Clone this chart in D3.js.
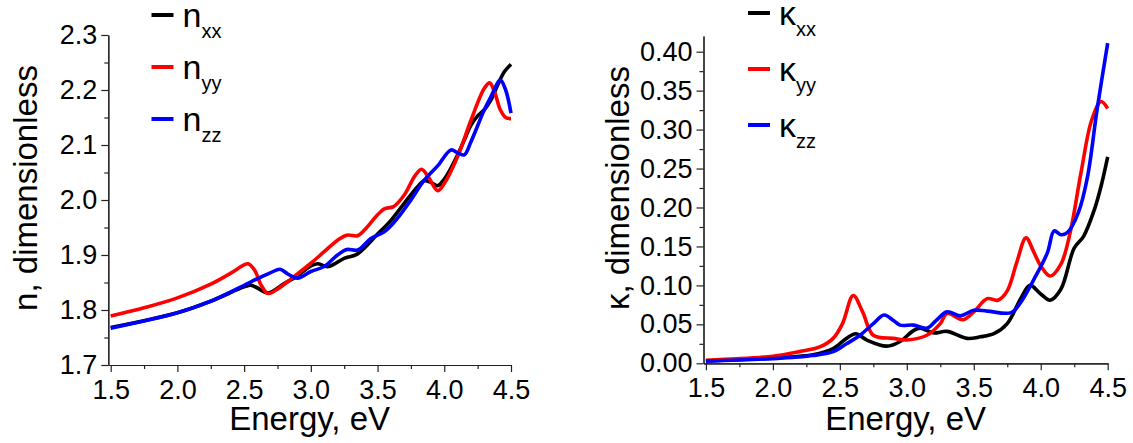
<!DOCTYPE html>
<html lang="en">
<head>
    <meta charset="UTF-8">
    <title>n and kappa</title>
    <script src="https://cdn.jsdelivr.net/npm/d3@7"></script>
    <style>
        body { margin: 0; background: #fff; }
        text { font-family: "Liberation Sans", Arial, sans-serif; fill: #000; }
    </style>
</head>
<body>
</body>
<script>
    // refractive index n (energy eV, value)
    const nxx = [[1.5,1.768],[2.0,1.795],[2.25,1.816],[2.5,1.842],[2.55,1.845],[2.6,1.840],[2.68,1.831],[2.8,1.848],[2.9,1.862],[3.0,1.880],[3.05,1.884],[3.13,1.879],[3.25,1.894],[3.35,1.902],[3.5,1.938],[3.6,1.963],[3.7,1.994],[3.8,2.024],[3.85,2.035],[3.9,2.032],[3.95,2.026],[4.0,2.038],[4.05,2.058],[4.1,2.082],[4.15,2.109],[4.2,2.136],[4.25,2.153],[4.3,2.164],[4.35,2.182],[4.4,2.209],[4.45,2.233],[4.5,2.247]];
    const nyy = [[1.5,1.789],[1.75,1.804],[2.0,1.822],[2.25,1.847],[2.4,1.867],[2.5,1.882],[2.53,1.884],[2.58,1.872],[2.63,1.844],[2.68,1.830],[2.75,1.838],[2.85,1.856],[3.0,1.885],[3.1,1.906],[3.2,1.927],[3.27,1.936],[3.35,1.935],[3.4,1.945],[3.5,1.973],[3.55,1.984],[3.62,1.988],[3.7,2.009],[3.78,2.044],[3.83,2.056],[3.88,2.042],[3.95,2.017],[4.0,2.030],[4.1,2.079],[4.2,2.145],[4.3,2.203],[4.34,2.213],[4.38,2.194],[4.42,2.164],[4.46,2.150],[4.5,2.148]];
    const nzz = [[1.5,1.767],[2.0,1.795],[2.25,1.816],[2.5,1.845],[2.6,1.857],[2.7,1.868],[2.77,1.874],[2.83,1.865],[2.9,1.858],[3.0,1.870],[3.1,1.879],[3.2,1.900],[3.27,1.910],[3.35,1.909],[3.45,1.930],[3.55,1.942],[3.65,1.967],[3.75,2.000],[3.85,2.036],[3.95,2.062],[4.05,2.091],[4.1,2.086],[4.15,2.082],[4.2,2.106],[4.3,2.164],[4.35,2.188],[4.42,2.218],[4.46,2.200],[4.5,2.158]];

    // extinction coefficient kappa
    const kxx = [[1.5,0.003],[2.0,0.007],[2.3,0.011],[2.45,0.019],[2.55,0.032],[2.62,0.038],[2.7,0.030],[2.85,0.022],[2.95,0.028],[3.05,0.042],[3.1,0.045],[3.2,0.039],[3.3,0.041],[3.45,0.032],[3.55,0.034],[3.65,0.038],[3.75,0.051],[3.85,0.083],[3.92,0.100],[4.0,0.089],[4.07,0.081],[4.15,0.095],[4.25,0.148],[4.32,0.163],[4.4,0.197],[4.45,0.227],[4.5,0.265]];
    const kyy = [[1.5,0.004],[2.0,0.009],[2.2,0.015],[2.35,0.021],[2.45,0.032],[2.52,0.051],[2.6,0.087],[2.67,0.066],[2.75,0.036],[2.9,0.032],[3.0,0.030],[3.15,0.036],[3.25,0.051],[3.3,0.064],[3.42,0.056],[3.5,0.066],[3.6,0.083],[3.68,0.081],[3.75,0.093],[3.82,0.129],[3.89,0.161],[3.95,0.142],[4.0,0.125],[4.07,0.112],[4.15,0.127],[4.22,0.168],[4.3,0.244],[4.38,0.312],[4.45,0.336],[4.5,0.327]];
    const kzz = [[1.5,0.003],[2.0,0.006],[2.3,0.010],[2.45,0.015],[2.55,0.025],[2.65,0.036],[2.75,0.051],[2.83,0.062],[2.9,0.055],[2.95,0.049],[3.05,0.049],[3.15,0.045],[3.22,0.055],[3.3,0.066],[3.4,0.061],[3.5,0.068],[3.6,0.067],[3.78,0.065],[3.85,0.078],[3.95,0.108],[4.05,0.142],[4.1,0.170],[4.15,0.165],[4.2,0.168],[4.28,0.193],[4.35,0.240],[4.42,0.325],[4.5,0.411]];

    const xMajor = [1.5, 2.0, 2.5, 3.0, 3.5, 4.0, 4.5];
    const nMajor = [1.7, 1.8, 1.9, 2.0, 2.1, 2.2, 2.3];
    const kMajor = [0, 0.05, 0.10, 0.15, 0.20, 0.25, 0.30, 0.35, 0.40];
    const colors = ["#000000", "#ff0000", "#0000ff"];
    const subs = ["xx", "yy", "zz"];

    const width = 1133, height = 443;
    const svg = d3.select("body").append("svg")
        .attr("width", width)
        .attr("height", height);

    function panel(opt) {
        const x = d3.scaleLinear().domain([1.482, 4.5]).range([opt.left, opt.right]);
        const y = d3.scaleLinear().domain(opt.ydom).range([opt.bottom, opt.top]);
        const g = svg.append("g");

        const minorX = d3.range(1.75, 4.5, 0.5);
        const minorY = opt.yMinor;

        // minor ticks first
        g.append("g")
            .attr("transform", `translate(0,${opt.bottom})`)
            .call(d3.axisBottom(x).tickValues(minorX).tickSize(4).tickSizeOuter(0).tickFormat(""));
        g.append("g")
            .attr("transform", `translate(${opt.left},0)`)
            .call(d3.axisLeft(y).tickValues(minorY).tickSize(4).tickSizeOuter(0).tickFormat(""));

        const xa = g.append("g")
            .attr("transform", `translate(0,${opt.bottom})`)
            .call(d3.axisBottom(x).tickValues(xMajor).tickSize(7).tickPadding(8).tickSizeOuter(0).tickFormat(d3.format(".1f")));
        const ya = g.append("g")
            .attr("transform", `translate(${opt.left},0)`)
            .call(d3.axisLeft(y).tickValues(opt.yMajor).tickSize(7).tickPadding(4).tickSizeOuter(0).tickFormat(d3.format(opt.fmt)));

        g.selectAll(".tick text")
            .style("font-size", "27px")
            .style("font-family", "'Liberation Sans', Arial, sans-serif");
        g.selectAll(".domain, .tick line").attr("stroke", "#222").attr("stroke-width", 1.2);

        const line = d3.line()
            .x(d => x(d[0]))
            .y(d => y(d[1]))
            .curve(d3.curveCatmullRom.alpha(0.5));

        opt.series.forEach((s, i) => {
            g.append("path")
                .datum(s)
                .attr("fill", "none")
                .attr("stroke", colors[i])
                .attr("stroke-width", 3.6)
                .attr("stroke-linejoin", "round")
                .attr("d", line);
        });

        // axis titles
        g.append("text")
            .attr("x", (opt.left + opt.right) / 2)
            .attr("y", 430)
            .attr("text-anchor", "middle")
            .style("font-size", "33px")
            .text("Energy, eV");

        g.append("text")
            .attr("transform", `translate(${opt.ylabX},188) rotate(-90)`)
            .attr("text-anchor", "middle")
            .style("font-size", "33px")
            .text(opt.ylab);

        // legend
        opt.legY.forEach((ly, i) => {
            g.append("line")
                .attr("x1", opt.legX).attr("x2", opt.legX + 22)
                .attr("y1", ly).attr("y2", ly)
                .attr("stroke", colors[i])
                .attr("stroke-width", 4);
            const t = g.append("text")
                .attr("x", opt.legX + 31)
                .attr("y", ly + 12)
                .style("font-size", opt.legSize + "px")
                .text(opt.sym);
            t.append("tspan")
                .attr("dy", 11)
                .style("font-size", "20px")
                .text(subs[i]);
        });
    }

    panel({
        left: 108.3, right: 511, top: 35, bottom: 365,
        ydom: [1.7, 2.3], yMajor: nMajor, yMinor: d3.range(1.75, 2.3, 0.1), fmt: ".1f",
        series: [nxx, nyy, nzz],
        ylab: "n, dimensionless", ylabX: 37,
        legX: 151.5, legY: [15, 67, 119], sym: "n", legSize: 34
    });

    panel({
        left: 703.5, right: 1107.7, top: 36.1, bottom: 363.3,
        ydom: [0, 0.42], yMajor: kMajor, yMinor: d3.range(0.025, 0.40, 0.05), fmt: ".2f",
        series: [kxx, kyy, kzz],
        ylab: "\u03ba, dimensionless", ylabX: 629,
        legX: 748, legY: [13, 69, 125], sym: "\u03ba", legSize: 34
    });
</script>
</html>
